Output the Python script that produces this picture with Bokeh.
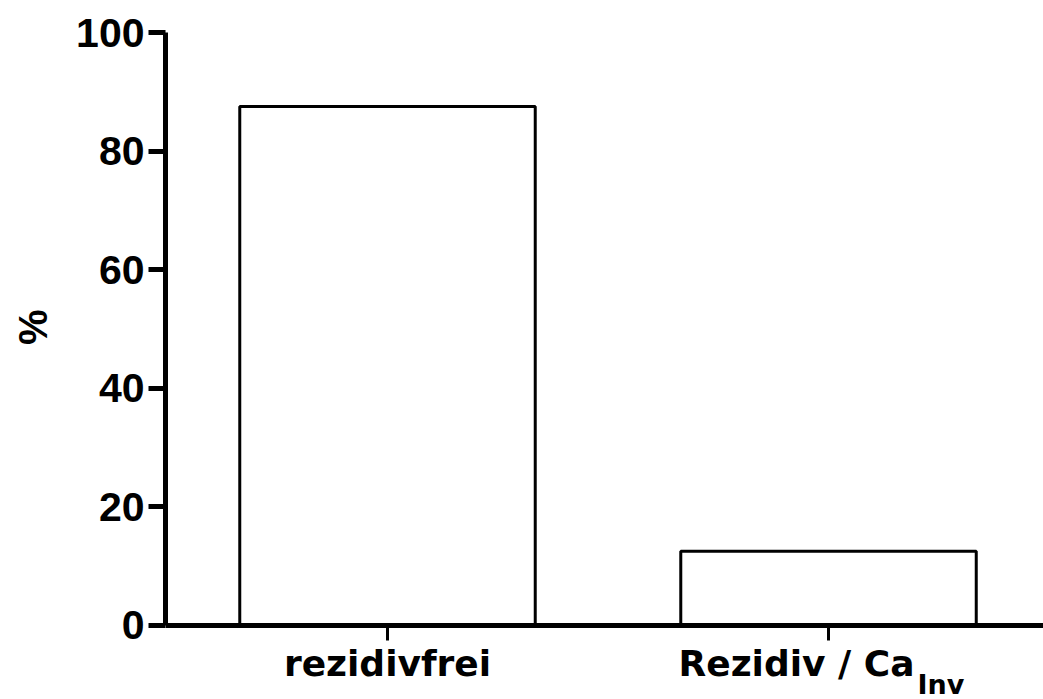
from bokeh.plotting import figure
from bokeh.models import Range1d, FixedTicker, Label
from bokeh.embed import file_html
from bokeh.resources import INLINE

# ---- data ----
categories = ["rezidivfrei", "Rezidiv / Ca"]
subscripts = ["", "Inv"]
values = [87.5, 12.5]
y_ticks = [0, 20, 40, 60, 80, 100]
y_label = "%"

xs = list(range(len(categories)))

# frame runs from the top of the axis down to the window bottom, so the
# category labels (with subscript) can live inside it below y = 0
p = figure(width=1043, height=699, output_backend="svg", toolbar_location=None,
           x_range=Range1d(-0.5034, 1.4875), y_range=Range1d(-12.48, 100),
           x_axis_location="above",
           min_border_left=165, min_border_right=0, min_border_top=32,
           min_border_bottom=0)
p.title.visible = False
p.background_fill_color = "white"
p.border_fill_color = "white"
p.outline_line_color = None
p.xgrid.visible = False
p.ygrid.visible = False

p.vbar(x=xs, top=values, width=0.67, bottom=0, fill_color="white",
       line_color="black", line_width=3)

# y axis
p.yaxis.ticker = FixedTicker(ticks=y_ticks)
p.yaxis.bounds = (0, 100)
p.yaxis.axis_line_width = 5
p.yaxis.axis_line_color = "black"
p.yaxis.major_tick_out = 17
p.yaxis.major_tick_in = 0
p.yaxis.major_tick_line_width = 5
p.yaxis.minor_tick_line_color = None
p.yaxis.major_label_text_font = "Liberation Sans"
p.yaxis.major_label_text_font_style = "bold"
p.yaxis.major_label_text_font_size = "41px"
p.yaxis.major_label_text_color = "black"
p.yaxis.major_label_standoff = 4
# label is centred on the whole (taller) frame: pad so "%" sits at mid-axis
p.yaxis.axis_label = "\u00a0" * 7 + y_label
p.yaxis.axis_label_text_font = "Liberation Sans"
p.yaxis.axis_label_text_font_style = "bold"
p.yaxis.axis_label_text_font_size = "40px"
p.yaxis.axis_label_text_color = "black"
p.yaxis.axis_label_standoff = 18

# x axis, fixed at y = 0 (ticks point downwards)
p.xaxis.fixed_location = 0
p.xaxis.ticker = FixedTicker(ticks=xs)
p.xaxis.axis_line_width = 5
p.xaxis.axis_line_color = "black"
p.xaxis.major_tick_out = 0
p.xaxis.major_tick_in = 15
p.xaxis.major_tick_line_width = 3
p.xaxis.minor_tick_line_color = None
p.xaxis.major_label_overrides = {i: "" for i in xs}
p.xaxis.major_label_text_font_size = "1px"
p.xaxis.major_label_standoff = 0

# category labels (annotation text, allows the subscript)
font = "DejaVu Sans"
for i, (cat, sub) in enumerate(zip(categories, subscripts)):
    if sub:
        p.add_layout(Label(x=i, y=-6.4, x_offset=-150, text=cat, text_align="left",
                           text_baseline="alphabetic", text_font=font,
                           text_font_style="bold", text_font_size="36px",
                           text_color="black"))
        p.add_layout(Label(x=i, y=-9.9, x_offset=89, text=sub, text_align="left",
                           text_baseline="alphabetic", text_font=font,
                           text_font_style="bold", text_font_size="27px",
                           text_color="black"))
    else:
        p.add_layout(Label(x=i, y=-6.4, text=cat, text_align="center",
                           text_baseline="alphabetic", text_font=font,
                           text_font_style="bold", text_font_size="36px",
                           text_color="black"))

open("out.html", "w").write(file_html(p, INLINE))
